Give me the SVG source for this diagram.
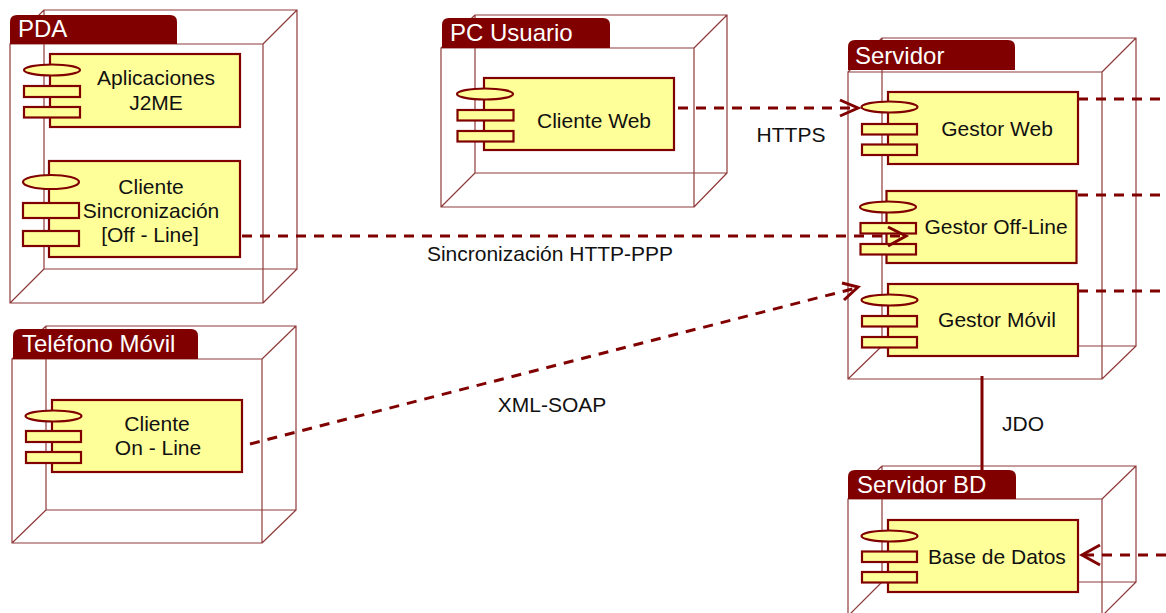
<svg xmlns="http://www.w3.org/2000/svg" width="1166" height="613" viewBox="0 0 1166 613">
<style>
.box{fill:none;stroke:#8f3a3a;stroke-width:1.2}
.tab{fill:#800000}
.title{font:24px "Liberation Sans",Arial,sans-serif;fill:#fff}
.c{fill:#ffff99;stroke:#800000;stroke-width:2.2}
.t{font:21px "Liberation Sans",Arial,sans-serif;fill:#111;text-anchor:middle}
.dash{fill:none;stroke:#800000;stroke-width:3;stroke-dasharray:10 8}
.solid{fill:none;stroke:#800000;stroke-width:3}
.head{fill:none;stroke:#800000;stroke-width:3}
</style>
<rect width="1166" height="613" fill="#fff"/>
<g id="node-pda">
<path class="box" d="M10 44H263V303H10ZM44 269V10H297V269H44M10 44L44 10M263 44L297 10M10 303L44 269M263 303L297 269"/>
<path class="tab" d="M10 44V22Q10 15 17 15H170Q177 15 177 22V44Z"/>
<text class="title" x="18" y="37">PDA</text>
<g id="comp-aplicaciones">
<rect class="c" x="50" y="54" width="190" height="73"/>
<ellipse class="c" cx="52" cy="70" rx="28" ry="5.5"/>
<rect class="c" x="24" y="86" width="56" height="11"/>
<rect class="c" x="24" y="107" width="56" height="10.500"/>
<text class="t" x="156" y="85">Aplicaciones</text>
<text class="t" x="156" y="110">J2ME</text>
</g>
<g id="comp-sincronizacion">
<rect class="c" x="49" y="161" width="191" height="96"/>
<ellipse class="c" cx="51" cy="182" rx="28" ry="7"/>
<rect class="c" x="23" y="203" width="56" height="15"/>
<rect class="c" x="23" y="231" width="56" height="15"/>
<text class="t" x="151" y="194">Cliente</text>
<text class="t" x="151" y="218">Sincronización</text>
<text class="t" x="150" y="242">[Off - Line]</text>
</g>
</g>
<g id="node-telefono">
<path class="box" d="M12 359H262V543H12ZM46 510V326H296V510H46M12 359L46 326M262 359L296 326M12 543L46 510M262 543L296 510"/>
<path class="tab" d="M13 359V336Q13 329 20 329H191Q198 329 198 336V359Z"/>
<text class="title" x="22" y="352">Teléfono Móvil</text>
<g id="comp-online">
<rect class="c" x="52" y="400" width="190" height="72"/>
<ellipse class="c" cx="53.500" cy="416" rx="28" ry="5.500"/>
<rect class="c" x="26" y="431" width="55" height="11"/>
<rect class="c" x="26" y="452" width="55" height="11"/>
<text class="t" x="157" y="431">Cliente</text>
<text class="t" x="158" y="455">On - Line</text>
</g>
</g>
<g id="node-pc">
<path class="box" d="M441 48H694V207H441ZM475 173V15H727V173H475M441 48L475 15M694 48L727 15M441 207L475 173M694 207L727 173"/>
<path class="tab" d="M442 48V25Q442 18 449 18H603Q610 18 610 25V48Z"/>
<text class="title" x="450" y="41">PC Usuario</text>
<g id="comp-web">
<rect class="c" x="484" y="78" width="190" height="72"/>
<ellipse class="c" cx="485" cy="94" rx="28" ry="5.500"/>
<rect class="c" x="457.500" y="110" width="56" height="10.500"/>
<rect class="c" x="457.500" y="131" width="56" height="10.500"/>
<text class="t" x="594" y="128">Cliente Web</text>
</g>
</g>
<g id="node-servidor">
<path class="box" d="M848 72H1102V379H848ZM882 346V38H1136V346H882M848 72L882 38M1102 72L1136 38M848 379L882 346M1102 379L1136 346"/>
<path class="tab" d="M848 70V47Q848 40 855 40H1008Q1015 40 1015 47V70Z"/>
<text class="title" x="855" y="64">Servidor</text>
<g id="comp-gestor-web">
<rect class="c" x="888" y="92" width="190" height="72"/>
<ellipse class="c" cx="889.500" cy="107" rx="28" ry="5.500"/>
<rect class="c" x="862" y="124" width="55" height="10.500"/>
<rect class="c" x="862" y="144.500" width="55" height="10.500"/>
<text class="t" x="997" y="136">Gestor Web</text>
</g>
<g id="comp-gestor-offline">
<rect class="c" x="886.500" y="191" width="190" height="72"/>
<ellipse class="c" cx="888" cy="207" rx="28" ry="5.500"/>
<rect class="c" x="860.500" y="223" width="55.500" height="10.500"/>
<rect class="c" x="860.500" y="244" width="55.500" height="10.500"/>
<text class="t" x="996" y="234">Gestor Off-Line</text>
</g>
<g id="comp-gestor-movil">
<rect class="c" x="888" y="284" width="190" height="72"/>
<ellipse class="c" cx="889.500" cy="300" rx="28" ry="5.500"/>
<rect class="c" x="862" y="316" width="55" height="10.500"/>
<rect class="c" x="862" y="337" width="55" height="10.500"/>
<text class="t" x="997" y="327">Gestor Móvil</text>
</g>
</g>
<g id="node-servidor-bd">
<path class="box" d="M848 499H1102V616H848ZM882 582V466H1136V582H882M848 499L882 466M1102 499L1136 466M848 616L882 582M1102 616L1136 582"/>
<path class="tab" d="M848 499V477Q848 470 855 470H1009Q1016 470 1016 477V499Z"/>
<text class="title" x="857" y="493">Servidor BD</text>
<g id="comp-base-datos">
<rect class="c" x="888" y="520" width="190" height="72"/>
<ellipse class="c" cx="889.500" cy="536" rx="28" ry="5.500"/>
<rect class="c" x="862" y="551.500" width="55" height="10.500"/>
<rect class="c" x="862" y="572" width="55" height="10.500"/>
<text class="t" x="997" y="564">Base de Datos</text>
</g>
</g>
<g id="connectors">
<path class="dash" d="M678 108H856"/>
<path class="head" d="M840 100L858 108L840 116"/>
<path class="dash" d="M242 236H904"/>
<path class="head" d="M888 227L906 236L888 246"/>
<path class="dash" d="M250 444L856 288"/>
<path class="head" d="M842 283L858 287L844 300"/>
<path class="dash" d="M1078 99H1166"/>
<path class="dash" d="M1078 195H1166"/>
<path class="dash" d="M1078 291H1166"/>
<path class="dash" d="M1166 555H1084"/>
<path class="head" d="M1100 545L1082 555L1100 565"/>
<path class="solid" d="M982 376V471"/>
</g>
<g id="labels">
<text class="t" x="791" y="142">HTTPS</text>
<text class="t" x="550" y="261">Sincronización HTTP-PPP</text>
<text class="t" x="552" y="412">XML-SOAP</text>
<text class="t" x="1023" y="431">JDO</text>
</g>
</svg>
